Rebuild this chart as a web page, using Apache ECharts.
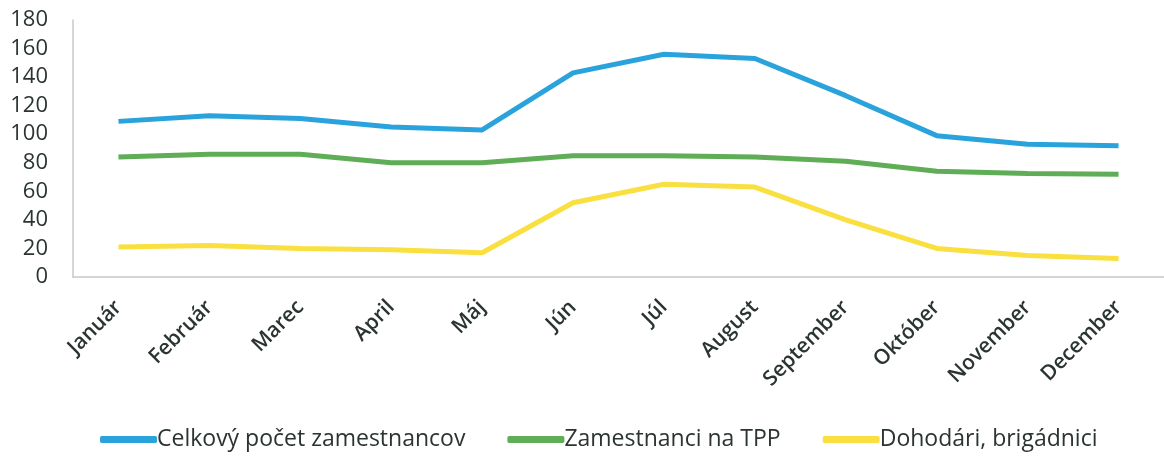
<!DOCTYPE html>
<html>
<head>
<meta charset="utf-8">
<script src="https://cdn.jsdelivr.net/npm/echarts@6/dist/echarts.min.js"></script>
<style>
  html, body { margin: 0; padding: 0; background: #fff; }
  #chart { width: 1164px; height: 458px; }
</style>
</head>
<body>
<div id="chart"></div>
<script>
var months = ['Január', 'Február', 'Marec', 'April', 'Máj', 'Jún', 'Júl', 'August', 'September', 'Október', 'November', 'December'];
var celkovy = [109, 113, 111, 105, 103, 143, 156, 153, 127, 99, 93, 92];
var tpp = [84, 86, 86, 80, 80, 85, 85, 84, 81, 74, 72.5, 72];
var dohodari = [21, 22, 20, 19, 17, 52, 65, 63, 40, 20, 15, 13];

var font = '"Open Sans", Lato, sans-serif';
var textColor = '#2b3530';
var chart = echarts.init(document.getElementById('chart'));

chart.setOption({
    animation: false,
    textStyle: { fontFamily: font },
    grid: { left: 73, right: -9, top: 20, bottom: 181, containLabel: false },
    legend: {
        bottom: 2,
        left: 95,
        icon: 'roundRect',
        itemWidth: 57,
        itemHeight: 7,
        itemGap: 42,
        textStyle: { fontSize: 23, color: textColor, padding: [0, 0, 0, -5] },
        data: ['Celkový počet zamestnancov', 'Zamestnanci na TPP', 'Dohodári, brigádnici']
    },
    xAxis: {
        type: 'category',
        data: months,
        boundaryGap: true,
        axisLine: { lineStyle: { color: '#c8c8c8', width: 1.5 } },
        axisTick: { show: false },
        axisLabel: { rotate: 45, fontSize: 21, fontWeight: 600, color: textColor, margin: 27, interval: 0 }
    },
    yAxis: {
        type: 'value',
        min: 0,
        max: 180,
        interval: 20,
        axisLine: { show: true, lineStyle: { color: '#c8c8c8', width: 1.5 } },
        axisTick: { show: false },
        splitLine: { show: false },
        axisLabel: { fontSize: 22, color: textColor, margin: 25 }
    },
    series: [
        {
            name: 'Celkový počet zamestnancov',
            type: 'line',
            data: celkovy,
            symbol: 'none',
            color: '#2aa3dc',
            lineStyle: { width: 5, color: '#2aa3dc' }
        },
        {
            name: 'Zamestnanci na TPP',
            type: 'line',
            data: tpp,
            symbol: 'none',
            color: '#5fad56',
            lineStyle: { width: 5, color: '#5fad56' }
        },
        {
            name: 'Dohodári, brigádnici',
            type: 'line',
            data: dohodari,
            symbol: 'none',
            color: '#f9e040',
            lineStyle: { width: 5, color: '#f9e040' }
        }
    ]
});
</script>
</body>
</html>
